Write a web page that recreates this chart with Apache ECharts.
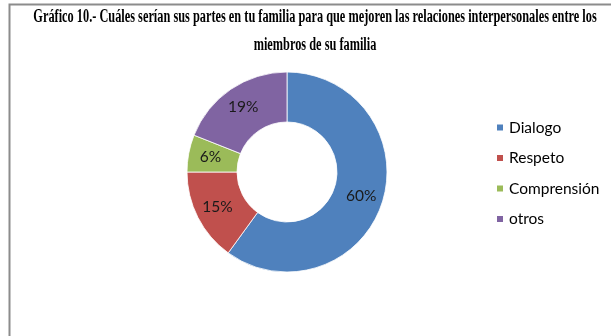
<!DOCTYPE html>
<html>
<head>
<meta charset="utf-8">
<style>
  html, body { margin: 0; padding: 0; background: #fff; }
  #chart { width: 611px; height: 336px; }
</style>
<script src="https://cdn.jsdelivr.net/npm/echarts@6/dist/echarts.min.js"></script>
</head>
<body>
<div id="chart"></div>
<script>
// Respuestas: qué aportarían en su familia para mejorar las relaciones
const categories = ['Dialogo', 'Respeto', 'Comprensión', 'otros'];
const percentages = [60, 15, 6, 19];
const colors = ['#4F81BD', '#C0504D', '#9BBB59', '#8064A2'];
const titleLines = [
  'Gráfico 10.- Cuáles serían sus partes en tu familia para que mejoren las relaciones interpersonales entre los',
  'miembros de su familia'
];

const chart = echarts.init(document.getElementById('chart'), null, { renderer: 'canvas' });

const titleFont = 'bold 18px "Liberation Serif", "Times New Roman", serif';
const squeeze = 0.685;
const bodyFont = 'Lato, "Open Sans", "Noto Sans", sans-serif';

chart.setOption({
  animation: false,
  color: colors,
  graphic: [
    {
      type: 'rect',
      shape: { x: 9.5, y: 4.5, width: 640, height: 360 },
      style: { fill: 'none', stroke: '#8c8c8c', lineWidth: 2 },
      silent: true
    },
    ...titleLines.map((t, i) => ({
      type: 'text',
      x: 315,
      y: 17 + i * 28,
      scaleX: squeeze,
      style: {
        text: t,
        font: titleFont,
        fill: '#000',
        align: 'center',
        verticalAlign: 'middle'
      }
    }))
  ],
  legend: {
    orient: 'vertical',
    left: 495,
    top: 119.5,
    padding: 0,
    itemWidth: 8,
    itemHeight: 8,
    itemGap: 14.5,
    icon: 'rect',
    textStyle: { fontFamily: bodyFont, fontSize: 15.5, lineHeight: 16, color: '#000' },
    data: categories
  },
  series: [{
    type: 'pie',
    center: [287, 172],
    radius: [50, 100],
    startAngle: 90,
    clockwise: true,
    avoidLabelOverlap: false,
    itemStyle: { borderColor: '#fff', borderWidth: 0.8 },
    label: {
      show: true,
      position: 'inside',
      formatter: p => p.value + '%',
      fontFamily: bodyFont,
      fontSize: 15.5,
      color: '#1a1a1a'
    },
    labelLine: { show: false },
    emphasis: { disabled: true },
    data: categories.map((c, i) => ({ name: c, value: percentages[i] }))
  }]
});
</script>
</body>
</html>
